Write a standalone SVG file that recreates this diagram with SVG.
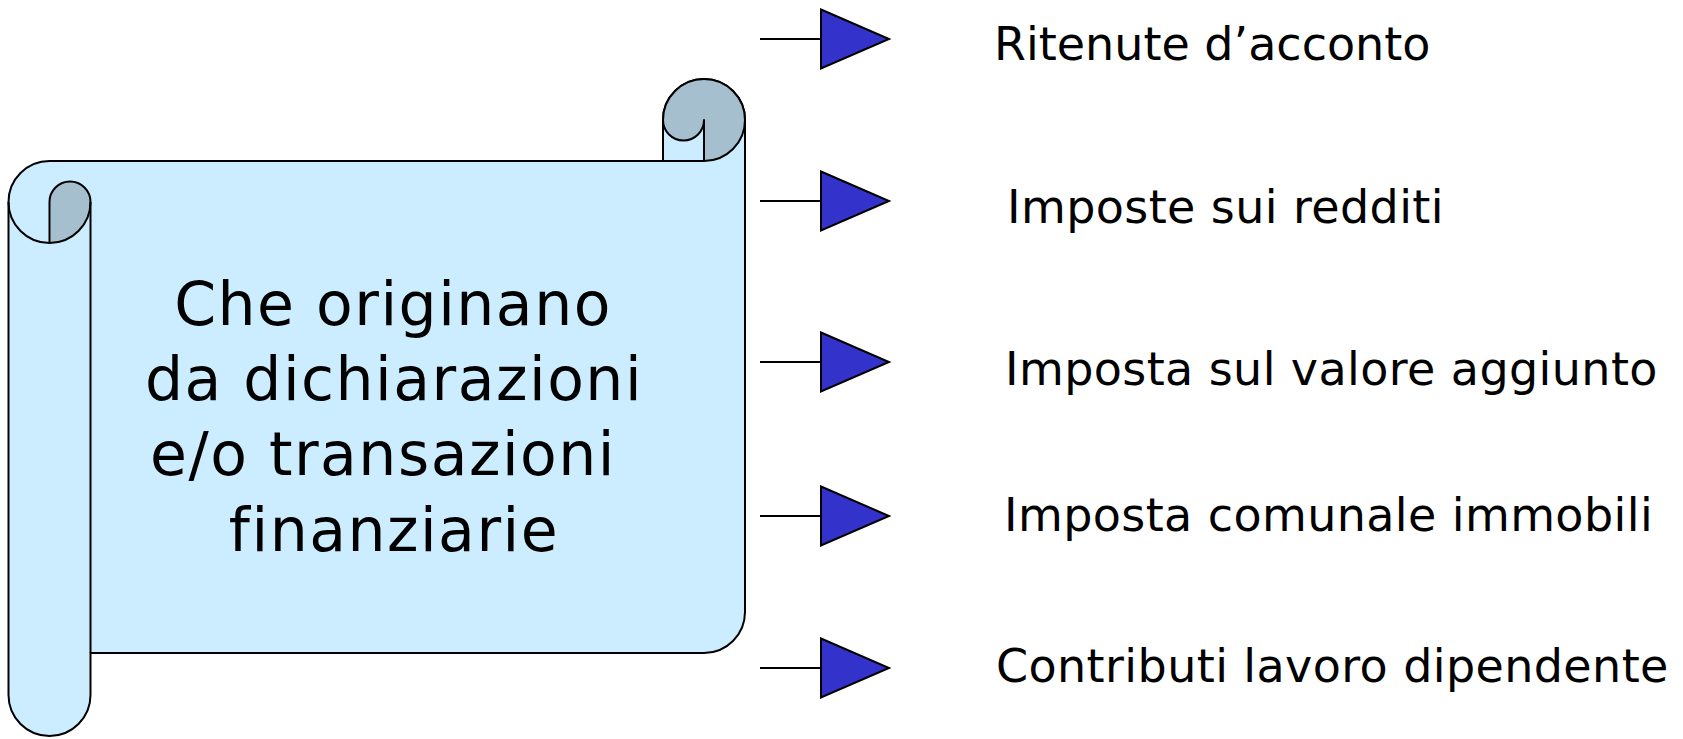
<svg xmlns="http://www.w3.org/2000/svg" width="1683" height="739" viewBox="0 0 1683 739">
<style>
.ln{fill:none;stroke:#000;stroke-width:2;stroke-linejoin:round}
.body{fill:#CCECFF;stroke:#000;stroke-width:2;stroke-linejoin:round}
.shade{fill:#A6BFCE;stroke:#000;stroke-width:2;stroke-linejoin:round}
.tri{fill:#3333CC;stroke:#000;stroke-width:2;stroke-linejoin:miter}
.lbl{font-family:"DejaVu Sans","Liberation Sans",sans-serif;font-size:46px;letter-spacing:0.4px;fill:#000}
.main{font-family:"DejaVu Sans","Liberation Sans",sans-serif;font-size:60px;letter-spacing:1.5px;fill:#000;text-anchor:middle}
</style>
<rect width="1683" height="739" fill="#fff"/>
<g id="scroll">
<path class="body" d="M49.5,161 H663 V120 A41,41 0 0 1 745,120 V612 A41,41 0 0 1 704,653 H90.5 V695 A41,41 0 0 1 8.5,695 V202 A41,41 0 0 1 49.5,161 Z"/>
<path class="shade" d="M663,120 A41,41 0 0 1 745,120 A41,41 0 0 1 704,161 V120 A20.5,20.5 0 0 1 663,120 Z"/>
<path class="shade" d="M49.5,202 A20.5,20.5 0 0 1 90.5,202 A41,41 0 0 1 49.5,243 Z"/>
<path class="ln" d="M8.5,202 A41,41 0 0 0 49.5,243"/>
<path class="ln" d="M90.5,202 V653"/>
<path class="ln" d="M663,161 H704"/>
<text class="main" x="393" y="325">Che originano</text>
<text class="main" x="394" y="400">da dichiarazioni</text>
<text class="main" x="383" y="475">e/o transazioni</text>
<text class="main" x="394" y="551">finanziarie</text>
</g>
<g id="connectors">
<line class="ln" x1="760" y1="39" x2="821" y2="39"/>
<line class="ln" x1="760" y1="201" x2="821" y2="201"/>
<line class="ln" x1="760" y1="362" x2="821" y2="362"/>
<line class="ln" x1="760" y1="516" x2="821" y2="516"/>
<line class="ln" x1="760" y1="668" x2="821" y2="668"/>
</g>
<g id="item1">
<polygon class="tri" points="821,9.5 889,39 821,68.5"/>
<text class="lbl" x="994" y="60" style="letter-spacing:0">Ritenute d’acconto</text>
</g>
<g id="item2">
<polygon class="tri" points="821,171.5 889,201 821,230.5"/>
<text class="lbl" x="1007" y="223">Imposte sui redditi</text>
</g>
<g id="item3">
<polygon class="tri" points="821,332.5 889,362 821,391.5"/>
<text class="lbl" x="1005" y="385">Imposta sul valore aggiunto</text>
</g>
<g id="item4">
<polygon class="tri" points="821,486.5 889,516 821,545.5"/>
<text class="lbl" x="1004" y="531">Imposta comunale immobili</text>
</g>
<g id="item5">
<polygon class="tri" points="821,638.5 889,668 821,697.5"/>
<text class="lbl" x="996" y="682">Contributi lavoro dipendente</text>
</g>
</svg>
